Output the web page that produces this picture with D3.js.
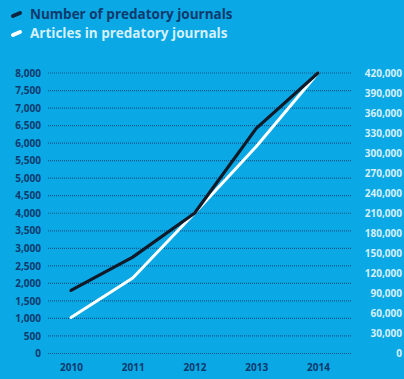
<!DOCTYPE html>
<html>
<head>
<meta charset="utf-8">
<script src="https://cdn.jsdelivr.net/npm/d3@7"></script>
<style>
  body { margin: 0; background: #0aa8e4; }
  svg { display: block; }
  .tick text { font-family: "Open Sans", sans-serif; font-weight: 700; font-size: 10px; }
</style>
</head>
<body>
<script>
// chart data
var years = [2010, 2011, 2012, 2013, 2014];
var journals = [1800, 2750, 4000, 6420, 8000];
var articles = [54000, 113000, 210000, 310000, 420000];
var leftTicks = d3.range(0, 8001, 500);
var rightTicks = d3.range(0, 420001, 30000);
var seriesNames = ["Number of predatory journals", "Articles in predatory journals"];

var W = 404, H = 379;
var navy = "#0f3a6d", light = "#d4f0fc";

var svg = d3.select("body").append("svg")
	.attr("width", W)
	.attr("height", H);

svg.append("rect").attr("width", W).attr("height", H).attr("fill", "#0aa8e4");

var x = d3.scaleLinear().domain([2010, 2014]).range([71, 318]);
var yL = d3.scaleLinear().domain([0, 8000]).range([353.5, 73]);
var yR = d3.scaleLinear().domain([0, 420000]).range([353.5, 73]);

// dotted gridlines
svg.append("g")
	.selectAll("line")
	.data(leftTicks)
	.enter()
	.append("line")
		.attr("x1", 48)
		.attr("x2", 352)
		.attr("y1", function(d) { return yL(d); })
		.attr("y2", function(d) { return yL(d); })
		.attr("stroke", "#0d5688")
		.attr("stroke-width", 1.2)
		.attr("stroke-dasharray", "1,1");

// left axis
var gl = svg.append("g")
	.attr("transform", "translate(41,0)")
	.call(d3.axisLeft(yL).tickValues(leftTicks).tickSize(0).tickPadding(0).tickFormat(d3.format(",")));
gl.select(".domain").remove();
gl.selectAll("text").attr("fill", navy);

// right axis
var gr = svg.append("g")
	.attr("transform", "translate(402,0)")
	.call(d3.axisLeft(yR).tickValues(rightTicks).tickSize(0).tickPadding(0).tickFormat(d3.format(",")));
gr.select(".domain").remove();
gr.selectAll("text").attr("fill", light);

// x axis
var gx = svg.append("g")
	.attr("transform", "translate(0,364)")
	.call(d3.axisBottom(x).tickValues(years).tickSize(0).tickPadding(0).tickFormat(d3.format("d")));
gx.select(".domain").remove();
gx.selectAll("text").attr("fill", navy);

// lines
var lineL = d3.line()
	.x(function(d, i) { return x(years[i]); })
	.y(function(d) { return yL(d); });
var lineR = d3.line()
	.x(function(d, i) { return x(years[i]); })
	.y(function(d) { return yR(d); });

svg.append("path")
	.attr("d", lineR(articles))
	.attr("fill", "none")
	.attr("stroke", "#ffffff")
	.attr("stroke-width", 3)
	.attr("stroke-linejoin", "round")
	.attr("stroke-linecap", "round");

svg.append("path")
	.attr("d", lineL(journals))
	.attr("fill", "none")
	.attr("stroke", "#101a28")
	.attr("stroke-width", 3.2)
	.attr("stroke-linejoin", "round")
	.attr("stroke-linecap", "round");

// legend
var legendColors = ["#0f2540", "#ffffff"];
var textColors = [navy, light];
var legend = svg.selectAll(".legend")
	.data(seriesNames)
	.enter()
	.append("g")
		.attr("class", "legend")
		.attr("transform", function(d, i) { return "translate(0," + (14 + i * 19) + ")"; });

legend.append("line")
	.attr("x1", 13).attr("y1", 2)
	.attr("x2", 20).attr("y2", -1)
	.attr("stroke", function(d, i) { return legendColors[i]; })
	.attr("stroke-width", 4)
	.attr("stroke-linecap", "round");

legend.append("text")
	.attr("x", 30)
	.attr("y", 5)
	.attr("font-family", "Open Sans, sans-serif")
	.attr("font-weight", 700)
	.attr("font-size", "13.5px")
	.attr("fill", function(d, i) { return textColors[i]; })
	.text(function(d) { return d; });
</script>
</body>
</html>
